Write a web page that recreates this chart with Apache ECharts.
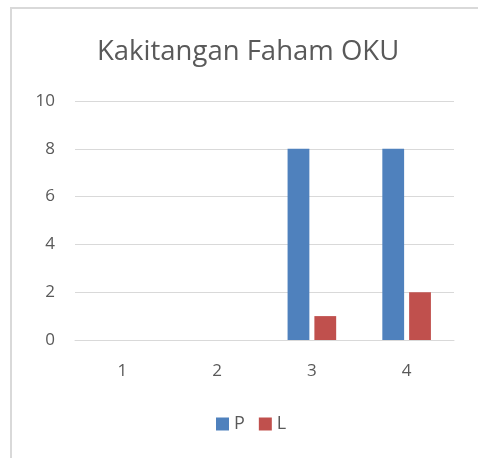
<!DOCTYPE html>
<html>
<head>
<meta charset="utf-8">
<script src="https://cdn.jsdelivr.net/npm/echarts@6/dist/echarts.min.js"></script>
<style>
  html, body { margin: 0; padding: 0; background: #fff; }
  #chart { width: 478px; height: 458px; }
</style>
</head>
<body>
<div id="chart"></div>
<script>
const categories = ['1', '2', '3', '4'];
const seriesP = [0, 0, 8, 8];
const seriesL = [0, 0, 1, 2];

const font = '"Open Sans", "Noto Sans", sans-serif';

let chartDom = document.getElementById('chart');
let myChart = echarts.init(chartDom);
let option = {
  animation: false,
  title: {
    text: 'Kakitangan Faham OKU',
    left: 92,
    top: 33,
    textStyle: { fontFamily: font, fontSize: 27.5, fontWeight: 'normal', color: '#595959' }
  },
  graphic: [
    {
      type: 'rect',
      shape: { x: 11, y: 8, width: 520, height: 520 },
      style: { fill: 'none', stroke: '#d9d9d9', lineWidth: 2 },
      silent: true
    }
  ],
  legend: {
    bottom: 20,
    left: 211,
    itemWidth: 13,
    itemHeight: 13,
    itemGap: 14,
    icon: 'rect',
    textStyle: { fontFamily: font, fontSize: 18, color: '#595959' },
    data: ['P', 'L']
  },
  grid: { left: 75, right: 24, top: 101, bottom: 118 },
  xAxis: {
    type: 'category',
    data: categories,
    axisLine: { show: true, lineStyle: { color: '#d9d9d9', width: 1 } },
    axisTick: { show: false },
    axisLabel: { fontFamily: font, fontSize: 17, color: '#595959', margin: 23 }
  },
  yAxis: {
    type: 'value',
    min: 0,
    max: 10,
    interval: 2,
    axisLine: { show: false },
    axisTick: { show: false },
    splitLine: { lineStyle: { color: '#d9d9d9', width: 1 } },
    axisLabel: { fontFamily: font, fontSize: 17, color: '#595959', margin: 20 }
  },
  series: [
    {
      name: 'P',
      type: 'bar',
      data: seriesP,
      barWidth: '23%',
      barGap: '23%',
      itemStyle: { color: '#4f81bd' }
    },
    {
      name: 'L',
      type: 'bar',
      data: seriesL,
      barWidth: '23%',
      itemStyle: { color: '#c0504d' }
    }
  ]
};
myChart.setOption(option);
</script>
</body>
</html>
